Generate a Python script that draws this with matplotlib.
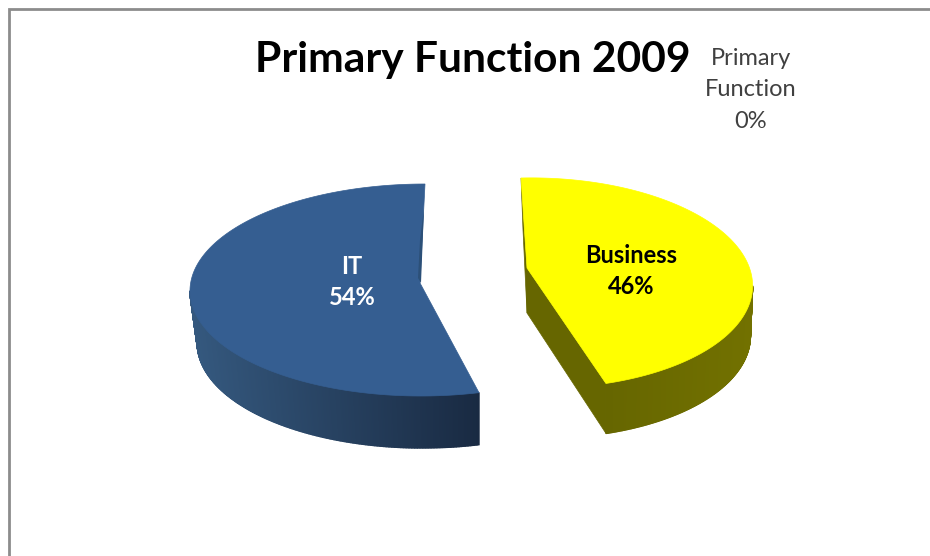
import numpy as np
import matplotlib
matplotlib.use("Agg")
import matplotlib.pyplot as plt
from matplotlib.patches import Polygon

# data
categories = ["IT", "Business"]
shares = [54, 46]
title = "Primary Function 2009"
stray_label = ["Primary", "Function", "0%"]
stray_value = 0


def arc(c, u, v, t0, t1, n=500):
    t = np.radians(np.linspace(t0, t1, n))
    x = c[0] + u[0] * np.cos(t) + v[0] * np.sin(t)
    y = c[1] + u[1] * np.cos(t) + v[1] * np.sin(t)
    return x, y


def wall(ax, x, y, x2, y2, c_from, c_to):
    # side of the slice, thin quads so the colour can run along it
    c_from = np.array(matplotlib.colors.to_rgb(c_from))
    c_to = np.array(matplotlib.colors.to_rgb(c_to))
    lo, hi = x.min(), x.max()
    for i in range(len(x) - 1):
        f = (x[i] - lo) / (hi - lo)
        col = c_from + (c_to - c_from) * f
        pts = [(x[i], y[i]), (x[i + 1], y[i + 1]), (x2[i + 1], y2[i + 1]), (x2[i], y2[i])]
        ax.add_patch(Polygon(pts, closed=True, fc=col, ec=col, lw=1.0))


fig = plt.figure(figsize=(9.3, 5.56), dpi=100)
ax = fig.add_axes([0, 0, 1, 1])
ax.set_xlim(0, 930)
ax.set_ylim(556, 0)
ax.axis("off")

# chart frame, only top and left are in the crop
ax.plot([8.5, 8.5, 930], [556, 8.5, 8.5], color="#8c8c8c", lw=2, solid_capstyle="butt", solid_joinstyle="miter")

sweep = [s / sum(shares) * 360 for s in shares]

# IT slice, runs counter clockwise from 12 o'clock
c, u, v = (423, 290), (233, 0), (2, -106)
end = 90 + sweep[0]
x, y = arc(c, u, v, 90, end)
tip = (420, 283)
depth = 52
x2 = x[-1] + (x - x[-1]) * 0.975
y2 = y + depth
ii = np.arange(len(x)) >= np.argmin(x)
wall(ax, x[ii], y[ii], x2[ii], y2[ii], "#35597f", "#192a42")
ax.add_patch(Polygon(list(zip(x, y)) + [tip], closed=True, fc="#355e91", ec="#355e91", lw=0.5))
ax.add_patch(Polygon([(424, 208), (421, 283), (418, 278), (420, 240)], closed=True, fc="#2c5078", ec="none"))

# Business slice, clockwise from 12 o'clock
c, u, v = (537, 283), (215, -5), (-16, -105)
start = 90 - sweep[1]
x, y = arc(c, u, v, start, 90)
tip = (527, 268)
depth = 50
x2 = x[0] + (x - x[0]) * 0.985
y2 = y + depth
ii = np.arange(len(x)) <= np.argmax(x)
wall(ax, x[ii], y[ii], x2[ii], y2[ii], "#666600", "#727100")
ax.add_patch(Polygon([tip, (tip[0], tip[1] + 45), (x2[0], y2[0]), (x[0], y[0])], closed=True, fc="#666600", ec="#666600", lw=0.5))
ax.add_patch(Polygon([(521, 178), (523, 230), (527, 313), tip], closed=True, fc="#666600", ec="#666600", lw=0.5))
ax.add_patch(Polygon(list(zip(x, y)) + [tip], closed=True, fc="#ffff00", ec="#ffff00", lw=0.5))

# labels
ax.text(473, 60, title, fontsize=30.6, fontweight="bold", family="Lato", color="black", ha="center", va="center")
ax.text(352, 282, f"{categories[0]}\n{shares[0]}%", fontsize=17, fontweight="bold", family="Lato",
        color="white", ha="center", va="center", linespacing=1.47)
ax.text(631, 271, f"{categories[1]}\n{shares[1]}%", fontsize=17, fontweight="bold", family="Lato",
        color="black", ha="center", va="center", linespacing=1.47)
ax.text(751, 90, f"{stray_label[0]}\n{stray_label[1]}\n{stray_value}%", fontsize=17, family="Lato",
        color="#404040", ha="center", va="center", linespacing=1.6)

fig.savefig("out.png", dpi=100)
